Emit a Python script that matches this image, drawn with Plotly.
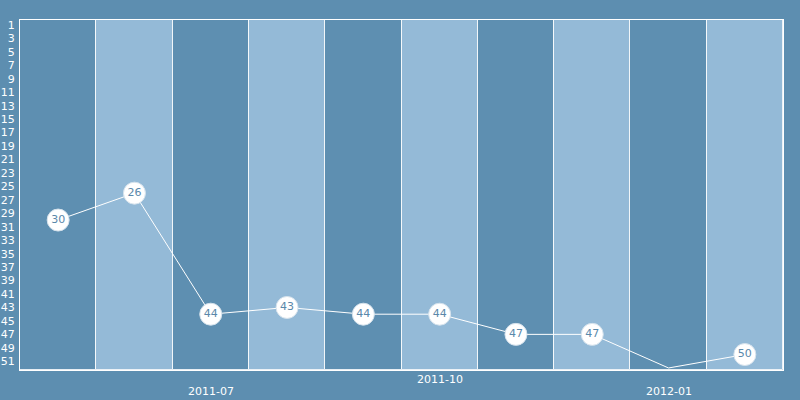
import plotly.graph_objects as go

# monthly rank (lower is better); ranks past 51 fall off the chart and get no marker
months = ["2011-05", "2011-06", "2011-07", "2011-08", "2011-09",
          "2011-10", "2011-11", "2011-12", "2012-01", "2012-02"]
rank = [30, 26, 44, 43, 44, 44, 47, 47, 52, 50]
tick_months = ["2011-07", "2011-10", "2012-01"]
rank_ticks = list(range(1, 52, 2))

BG = "#5d8eb0"
DARK = "#5e8fb1"
LIGHT = "#94bad7"

shown = [r <= 51 for r in rank]

fig = go.Figure()

# alternating month bands
fig.add_trace(go.Bar(
    x=months, y=[1] * len(months), width=1,
    marker=dict(color=[DARK if i % 2 == 0 else LIGHT for i in range(len(months))],
                line=dict(color="rgba(255,255,255,0.85)", width=1)),
    hoverinfo="skip", showlegend=False, yaxis="y",
))

fig.add_trace(go.Scatter(
    x=months, y=rank, yaxis="y2",
    mode="lines+markers+text",
    line=dict(color="white", width=1),
    marker=dict(size=[22 if s else 0 for s in shown], color="white", opacity=1,
                line=dict(color="#d5e2ec", width=1)),
    text=[str(r) if s else "" for r, s in zip(rank, shown)],
    textposition="middle center",
    textfont=dict(color="#5a88aa", size=11, family="DejaVu Sans"),
    showlegend=False, cliponaxis=False, opacity=1,
))

# staggered month labels
for i, m in enumerate(tick_months):
    fig.add_annotation(x=m, y=0, xref="x", yref="paper", yanchor="top",
                       yshift=-1 if i % 2 else -13, text=m, showarrow=False,
                       font=dict(color="white", size=11, family="DejaVu Sans"))

fig.update_layout(
    width=800, height=400,
    margin=dict(l=20, r=17, t=20, b=30, autoexpand=False),
    paper_bgcolor=BG, plot_bgcolor=BG,
    bargap=0,
    font=dict(family="DejaVu Sans", color="white", size=11),
    xaxis=dict(type="category", showticklabels=False, showgrid=False,
               zeroline=False, range=[-0.5, len(months) - 0.5], automargin=False,
               showline=True, linecolor="white", linewidth=1, mirror=True),
    yaxis=dict(range=[0, 1], visible=False, fixedrange=True, automargin=False),
    yaxis2=dict(overlaying="y", side="left", range=[52.3, 0.25], automargin=False,
                tickvals=rank_ticks, ticktext=[str(t) for t in rank_ticks],
                showgrid=False, zeroline=False, ticks="", ticklabelstandoff=2,
                tickfont=dict(color="white", size=11),
                showline=True, linecolor="white", linewidth=1, mirror=True),
)

fig.write_html("out.html", config={"displayModeBar": False},
               post_script="document.body.style.margin='0';")
